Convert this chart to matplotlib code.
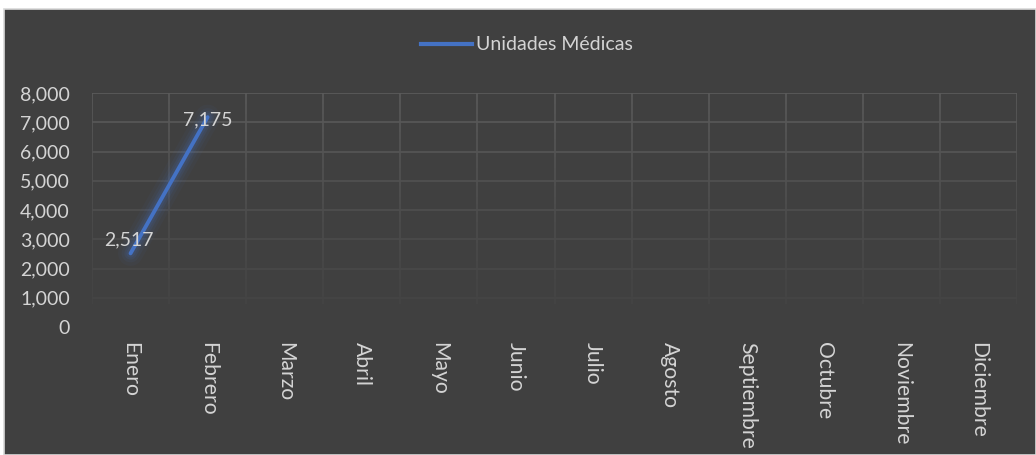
import matplotlib
matplotlib.use("Agg")
import matplotlib.pyplot as plt
from matplotlib.collections import LineCollection
from matplotlib.patches import Rectangle
import numpy as np

months = ["Enero", "Febrero", "Marzo", "Abril", "Mayo", "Junio", "Julio",
          "Agosto", "Septiembre", "Octubre", "Noviembre", "Diciembre"]
values = [2517, 7175]
series_name = "Unidades Médicas"
yticks = [0, 1000, 2000, 3000, 4000, 5000, 6000, 7000, 8000]

BG = "#404040"
TXT = "#d4d4d4"
LINE = "#4472C4"
FS = 14

plt.rcParams['font.family'] = ['Lato', 'DejaVu Sans']

W, H = 1036, 455
fig = plt.figure(figsize=(W / 100, H / 100), dpi=100)
fig.patch.set_facecolor("white")
fig.patches.append(Rectangle((4 / W, 0), 1 - 4 / W, 1 - 9 / H, transform=fig.transFigure,
                             facecolor=BG, edgecolor="#d9d9d9", linewidth=1.2, zorder=-10))

ax = fig.add_axes([92 / W, 128 / H, (1017 - 92) / W, (362 - 128) / H])
ax.set_zorder(2)
ax.set_facecolor("none")
ax.set_xlim(-0.5, len(months) - 0.5)
ax.set_ylim(0, 8000)
for s in ax.spines.values():
    s.set_visible(False)

def gcol(y):
    # gridline colour fades toward the bottom
    t = np.clip((y - 500) / 7500, 0, 1)
    c0 = np.array([0x44, 0x44, 0x44]) / 255
    c1 = np.array([0x5c, 0x5c, 0x5c]) / 255
    return tuple(c0 + (c1 - c0) * t)

for yv in yticks[1:]:
    ax.axhline(yv, color=gcol(yv), linewidth=1.2, zorder=1)

segs, cols = [], []
ys = np.linspace(800, 8000, 60)
for xb in np.arange(-0.5, len(months), 1.0):
    for a, b in zip(ys[:-1], ys[1:]):
        segs.append([(xb, a), (xb, b)])
        cols.append(gcol((a + b) / 2 - 400))
ax.add_collection(LineCollection(segs, colors=cols, linewidths=1.2, zorder=1))

x = np.arange(len(values))
for w, a in [(18, 0.05), (13, 0.07), (9, 0.10), (6, 0.12)]:
    ax.plot(x, values, color=LINE, linewidth=w, alpha=a, solid_capstyle="round", zorder=2)
ax.plot(x, values, color=LINE, linewidth=2.8, solid_capstyle="round", zorder=3)

offsets = [(-2, 14), (0, -3)]
for xi, v, off in zip(x, values, offsets):
    ax.annotate(f"{v:,}", (xi, v), xytext=off, textcoords="offset pixels",
                ha="center", va="center", color=TXT, fontsize=FS, zorder=4)

ax.set_yticks(yticks)
ax.set_yticklabels([f"{v:,}" for v in yticks])
ax.set_xticks(np.arange(len(months)))
ax.set_xticklabels(months, rotation=270, va="top", ha="center")
ax.tick_params(axis="both", length=0, colors=TXT, labelsize=FS)
ax.tick_params(axis="x", labelsize=15.2, pad=11)
ax.tick_params(axis="y", pad=16)

leg = fig.legend([plt.Line2D([], [], color=LINE, linewidth=3)], [series_name],
                 loc="center", bbox_to_anchor=(527 / W, 1 - 45 / H), frameon=False,
                 fontsize=FS, handlelength=2.6, handletextpad=0.2,
                 labelcolor=TXT)

fig.savefig("out.png", dpi=100, facecolor=fig.get_facecolor())
